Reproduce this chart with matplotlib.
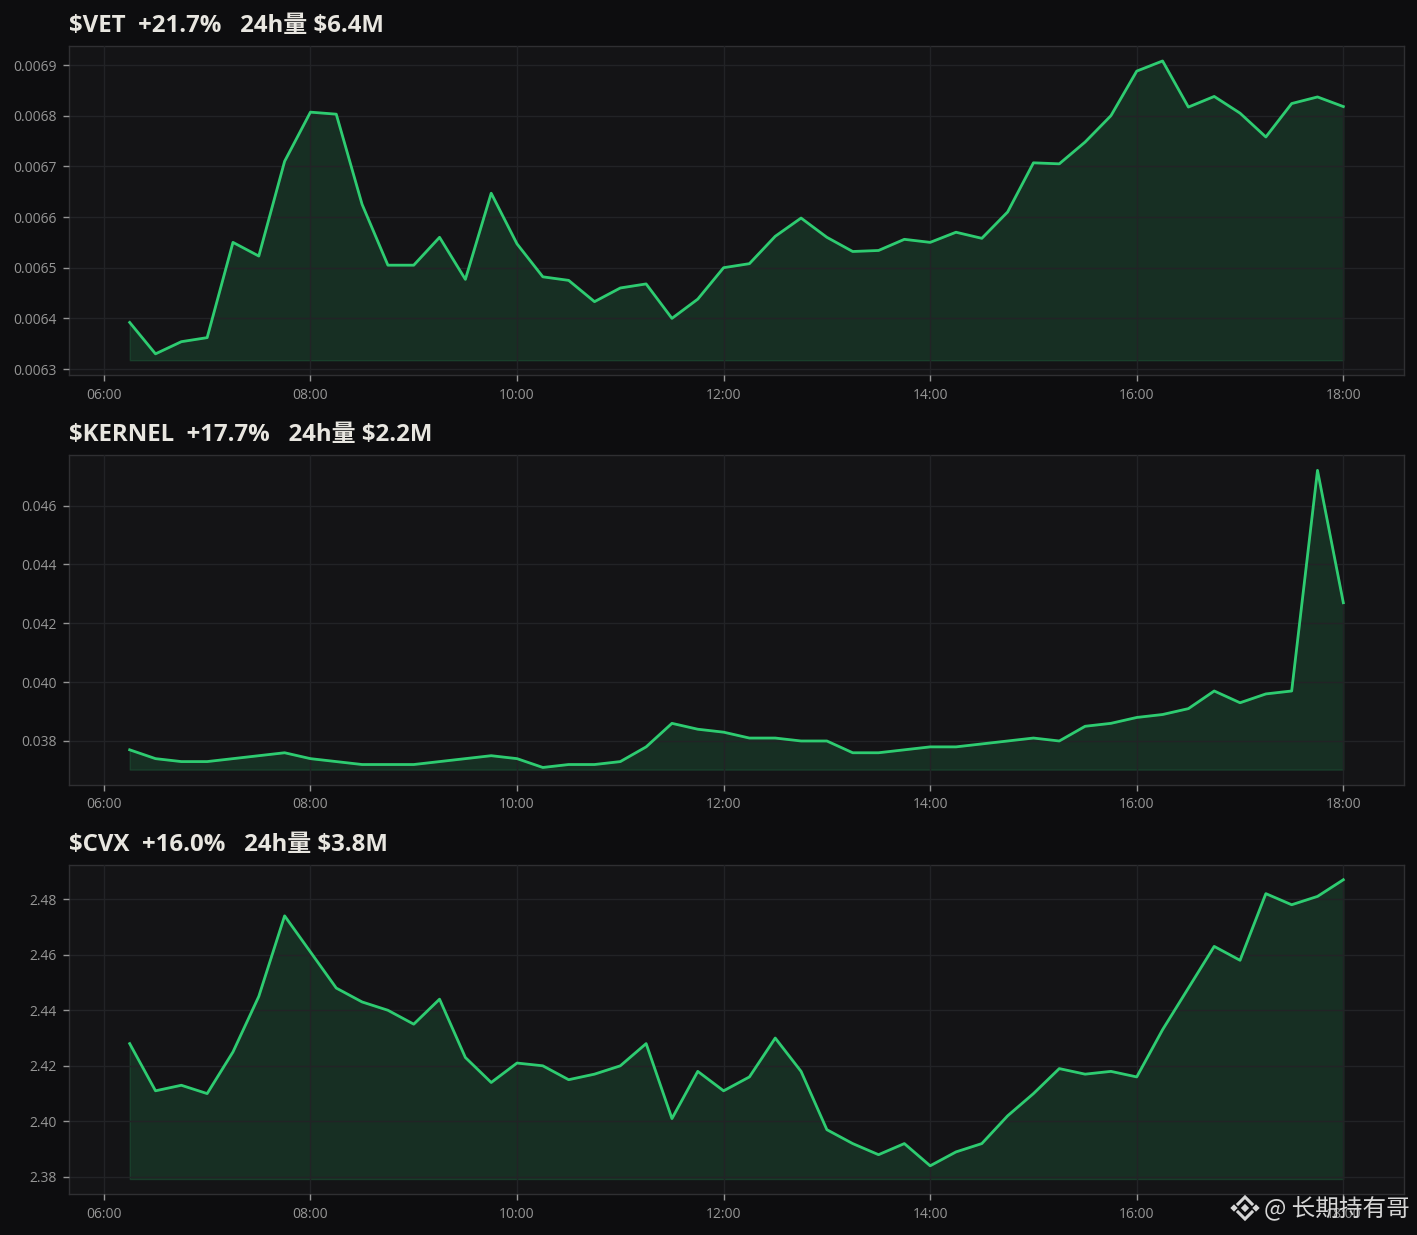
import numpy as np
import pandas as pd
import matplotlib
matplotlib.use('Agg')
import matplotlib.pyplot as plt
import matplotlib.dates as mdates

# Datos (cada 15 minutos, 06:15 - 18:00)
horas = pd.date_range('2024-01-01 06:15', '2024-01-01 18:00', freq='15min')

titulos = ['$VET  +21.7%   24h量 $6.4M',
           '$KERNEL  +17.7%   24h量 $2.2M',
           '$CVX  +16.0%   24h量 $3.8M']

vet = [0.006392, 0.00633, 0.006354, 0.006362, 0.00655, 0.006523, 0.00671, 0.006807,
       0.006803, 0.006625, 0.006505, 0.006505, 0.00656, 0.006477, 0.006647, 0.006547,
       0.006482, 0.006475, 0.006433, 0.00646, 0.006468, 0.0064, 0.006438, 0.0065,
       0.006508, 0.006562, 0.006598, 0.00656, 0.006532, 0.006534, 0.006556, 0.00655,
       0.00657, 0.006558, 0.00661, 0.006707, 0.006705, 0.006748, 0.0068, 0.006888,
       0.006908, 0.006817, 0.006838, 0.006805, 0.006758, 0.006824, 0.006837, 0.006818]

kernel = [0.0377, 0.0374, 0.0373, 0.0373, 0.0374, 0.0375, 0.0376, 0.0374,
          0.0373, 0.0372, 0.0372, 0.0372, 0.0373, 0.0374, 0.0375, 0.0374,
          0.0371, 0.0372, 0.0372, 0.0373, 0.0378, 0.0386, 0.0384, 0.0383,
          0.0381, 0.0381, 0.0380, 0.0380, 0.0376, 0.0376, 0.0377, 0.0378,
          0.0378, 0.0379, 0.0380, 0.0381, 0.0380, 0.0385, 0.0386, 0.0388,
          0.0389, 0.0391, 0.0397, 0.0393, 0.0396, 0.0397, 0.0472, 0.0427]

cvx = [2.428, 2.411, 2.413, 2.410, 2.425, 2.445, 2.474, 2.461,
       2.448, 2.443, 2.440, 2.435, 2.444, 2.423, 2.414, 2.421,
       2.420, 2.415, 2.417, 2.420, 2.428, 2.401, 2.418, 2.411,
       2.416, 2.430, 2.418, 2.397, 2.392, 2.388, 2.392, 2.384,
       2.389, 2.392, 2.402, 2.410, 2.419, 2.417, 2.418, 2.416,
       2.433, 2.448, 2.463, 2.458, 2.482, 2.478, 2.481, 2.487]

series = [vet, kernel, cvx]
formatos = ['%.4f', '%.3f', '%.2f']
pasos = [0.0001, 0.002, 0.02]

FONDO = '#0d0d0f'
PANEL = '#141416'
VERDE = '#2ecc71'
GRIS = '#969696'
REJILLA = '#222326'
BORDE = '#2f2f32'
LOGO = '#d6d6d6'
fuentes = ['Open Sans', 'Noto Sans CJK SC', 'DejaVu Sans']
plt.rcParams['font.family'] = fuentes

fig, axes = plt.subplots(3, 1, figsize=(14.17, 12.35), dpi=100, facecolor=FONDO)
fig.subplots_adjust(left=69 / 1417, right=1404 / 1417, top=1 - 46 / 1235,
                    bottom=1 - 1194 / 1235, hspace=0.2435)

for ax, titulo, valores, fmt, paso in zip(axes, titulos, series, formatos, pasos):
    y = np.array(valores)
    ax.set_facecolor(PANEL)
    ax.fill_between(horas, y, y.min() * 0.998, color=VERDE, alpha=0.15, zorder=2)
    ax.plot(horas, y, color=VERDE, linewidth=2, zorder=3)
    ax.grid(True, color=REJILLA, linewidth=1)
    ax.set_axisbelow(False)  # la rejilla se ve por encima del relleno
    ax.xaxis.set_major_locator(mdates.HourLocator(byhour=range(6, 19, 2)))
    ax.xaxis.set_major_formatter(mdates.DateFormatter('%H:%M'))
    ax.yaxis.set_major_locator(plt.MultipleLocator(paso))
    ax.yaxis.set_major_formatter(plt.FormatStrFormatter(fmt))
    ax.tick_params(colors=GRIS, labelsize=10, length=4, width=1, color=GRIS, pad=5)
    for borde in ax.spines.values():
        borde.set_color(BORDE)
        borde.set_linewidth(1)
    # parse_math=False porque los titulos llevan el signo $
    ax.set_title(titulo, loc='left', color='#e8e6e0', fontsize=17.3, fontweight='bold',
                 pad=10, parse_math=False)

# Marca de agua
marca = fig.add_axes([0, 0, 1, 1], facecolor='none')
marca.set_xlim(0, 1417)
marca.set_ylim(1235, 0)
marca.axis('off')
marca.text(1264, 1209, '@ 长期持有哥', color=LOGO, fontsize=17, va='center', ha='left',
           family=['Noto Sans CJK SC', 'DejaVu Sans'])
# logo: dos angulos, dos puntos laterales y uno central
marca.plot([1238, 1245, 1252], [1204, 1197, 1204], color=LOGO, lw=2.2, solid_joinstyle='miter')
marca.plot([1238, 1245, 1252], [1212, 1219, 1212], color=LOGO, lw=2.2, solid_joinstyle='miter')
marca.scatter([1234, 1245, 1256], [1208, 1208, 1208], marker='D', s=[14, 18, 14], color=LOGO,
              linewidths=0)

fig.savefig('out.png', dpi=100, facecolor=FONDO)
